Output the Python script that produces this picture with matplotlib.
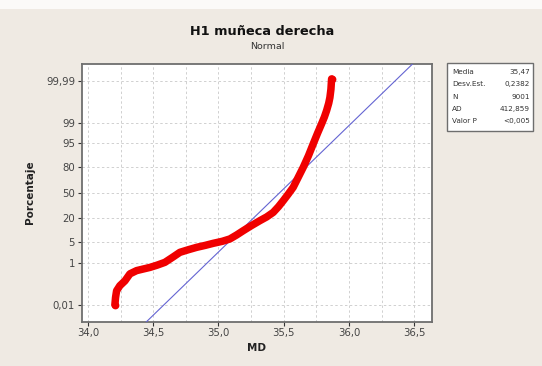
import numpy as np
import matplotlib
matplotlib.use("Agg")
import matplotlib.pyplot as plt
from matplotlib.ticker import MultipleLocator, NullLocator
from statistics import NormalDist

# data
md = [34.207, 34.212, 34.220, 34.245, 34.284, 34.322, 34.373, 34.430, 34.475, 34.530, 34.590,
      34.650, 34.705, 34.770, 34.833, 34.900, 34.960, 35.030, 35.088, 35.140, 35.190,
      35.250, 35.318, 35.370, 35.420, 35.460, 35.497, 35.535, 35.573, 35.610, 35.650,
      35.690, 35.726, 35.760, 35.791, 35.812, 35.829, 35.845, 35.854, 35.862, 35.867]
pct = [0.01, 0.025, 0.056, 0.10, 0.17, 0.35, 0.48, 0.57, 0.65, 0.80, 1.03,
       1.6, 2.37, 2.9, 3.46, 4.0, 4.61, 5.3, 6.2, 8.0, 10.3,
       13.5, 17.6, 21.0, 25.6, 32.0, 39.5, 48.0, 57.0, 69.0, 80.0,
       89.0, 94.7, 97.6, 98.9, 99.4, 99.68, 99.85, 99.92, 99.97, 99.992]

media = 35.47
desv = 0.2382
n_obs = 9001
ad = 412.859

yticks = [0.01, 1, 5, 20, 50, 80, 95, 99, 99.99]
ytick_labels = ['0,01', '1', '5', '20', '50', '80', '95', '99', '99,99']
xticks = [34.0, 34.5, 35.0, 35.5, 36.0, 36.5]
xtick_labels = ['34,0', '34,5', '35,0', '35,5', '36,0', '36,5']

nd = NormalDist()
_ppf = np.vectorize(nd.inv_cdf, otypes=[float])
_cdf = np.vectorize(nd.cdf, otypes=[float])


def fwd(p):
    p = np.clip(np.asarray(p, dtype=float) / 100.0, 1e-12, 1 - 1e-12)
    return _ppf(p)


def inv(z):
    z = np.asarray(z, dtype=float)
    return _cdf(z) * 100.0


bg = '#EFEAE3'
fig = plt.figure(figsize=(5.42, 3.66), dpi=100, facecolor=bg)
fig.patches.append(plt.Rectangle((0, 0.975), 1, 0.03, transform=fig.transFigure,
                                 facecolor='#FBFAF8', edgecolor='none', zorder=-1))

ax = fig.add_axes([0.1513, 0.1215, 0.6457, 0.7045])
ax.set_yscale('function', functions=(fwd, inv))

zlim = 4.28
ax.set_ylim(nd.cdf(-zlim) * 100, nd.cdf(zlim) * 100)
ax.set_xlim(33.955, 36.636)

# fitted normal line
zline = np.array([-4.6, 4.6])
ax.plot(media + desv * zline, _cdf(zline) * 100, color='#6464D2', lw=0.8, zorder=3)

# data
ax.plot(md, pct, color='#F00000', lw=5.4, solid_capstyle='round',
        solid_joinstyle='round', zorder=4)
ax.plot([md[0], md[-1]], [pct[0], pct[-1]], 'o', color='#F00000', mec='none', ms=5.6, zorder=5)

ax.set_yticks(yticks)
ax.set_yticklabels(ytick_labels)
ax.yaxis.set_minor_locator(NullLocator())
ax.set_xticks(xticks)
ax.set_xticklabels(xtick_labels)
ax.xaxis.set_minor_locator(MultipleLocator(0.25))

ax.grid(True, which='both', axis='x', color='#D0D0D0', ls=(0, (2.5, 2.5)), lw=0.7)
ax.grid(True, which='major', axis='y', color='#D0D0D0', ls=(0, (2.5, 2.5)), lw=0.7)
ax.set_axisbelow(True)

ax.tick_params(axis='both', which='major', labelsize=7.3, colors='#333333',
               length=3, width=0.8, pad=2, labelcolor='#444444')
ax.tick_params(axis='x', which='minor', length=0)
ax.tick_params(top=False, right=False)
for s in ax.spines.values():
    s.set_color('#6E6E6E')
    s.set_linewidth(1.3)

ax.set_xlabel('MD', fontsize=7.5, fontweight='bold', color='#222222', labelpad=3)
ax.set_ylabel('Porcentaje', fontsize=7.5, fontweight='bold', color='#222222', labelpad=8)

fig.text(0.483, 0.913, 'H1 muñeca derecha', ha='center', va='center',
         fontsize=9.3, fontweight='bold', color='#111111')
fig.text(0.493, 0.872, 'Normal', ha='center', va='center', fontsize=6.8, color='#333333')

# stats box
box = plt.Rectangle((447 / 542, 1 - 131 / 366), 86 / 542, 68 / 366, transform=fig.transFigure,
                    facecolor='white', edgecolor='#6E6E6E', lw=1.0)
fig.patches.append(box)
rows = [('Media', '35,47'), ('Desv.Est.', '0,2382'), ('N', str(n_obs)),
        ('AD', '412,859'), ('Valor P', '<0,005')]
for i, (k, v) in enumerate(rows):
    yy = 1 - (72 + i * 12.3) / 366
    fig.text(452 / 542, yy, k, ha='left', va='center', fontsize=5.2, color='#333333')
    fig.text(530 / 542, yy, v, ha='right', va='center', fontsize=5.2, color='#333333')

fig.savefig('out.png', dpi=100, facecolor=bg)
